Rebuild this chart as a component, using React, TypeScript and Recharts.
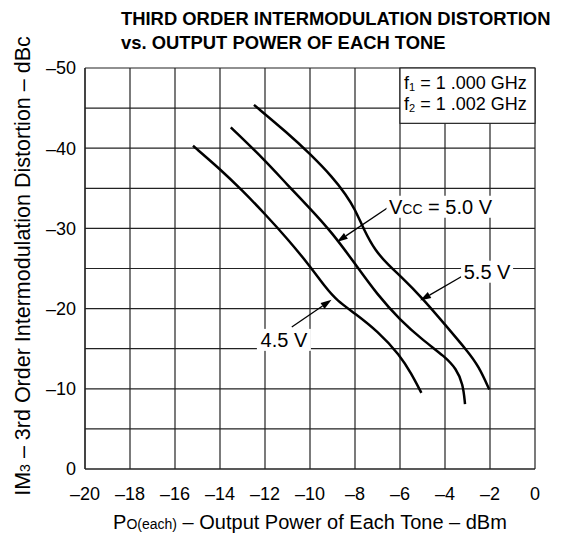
import {
  LineChart,
  Line,
  XAxis,
  YAxis,
  CartesianGrid,
  ReferenceArea,
  ReferenceLine,
  ReferenceDot,
} from 'recharts';

// IM3 (dBc) vs output power of each tone (dBm), one curve per Vcc
const VCC_45 = [
  { x: -15.2, y: -40.3 },
  { x: -14.0, y: -37.4 },
  { x: -13.0, y: -34.7 },
  { x: -12.0, y: -31.8 },
  { x: -11.0, y: -28.7 },
  { x: -10.0, y: -25.3 },
  { x: -9.3, y: -22.6 },
  { x: -8.8, y: -21.0 },
  { x: -8.0, y: -19.4 },
  { x: -7.0, y: -17.2 },
  { x: -6.0, y: -14.2 },
  { x: -5.5, y: -11.9 },
  { x: -5.05, y: -9.5 },
];

const VCC_50 = [
  { x: -13.52, y: -42.6 },
  { x: -12.0, y: -38.5 },
  { x: -11.0, y: -35.4 },
  { x: -10.0, y: -32.5 },
  { x: -9.0, y: -29.4 },
  { x: -8.0, y: -25.6 },
  { x: -7.0, y: -21.7 },
  { x: -6.0, y: -18.6 },
  { x: -5.0, y: -16.1 },
  { x: -4.0, y: -14.0 },
  { x: -3.5, y: -12.5 },
  { x: -3.2, y: -10.6 },
  { x: -3.11, y: -8.1 },
];

const VCC_55 = [
  { x: -12.49, y: -45.4 },
  { x: -11.0, y: -41.9 },
  { x: -10.0, y: -39.3 },
  { x: -9.0, y: -36.4 },
  { x: -8.4, y: -34.2 },
  { x: -8.0, y: -32.4 },
  { x: -7.6, y: -29.8 },
  { x: -7.1, y: -27.2 },
  { x: -6.5, y: -25.4 },
  { x: -6.0, y: -24.1 },
  { x: -5.0, y: -21.3 },
  { x: -4.0, y: -18.0 },
  { x: -3.0, y: -14.7 },
  { x: -2.5, y: -12.8 },
  { x: -2.03, y: -9.9 },
];

const X_TICKS = [-20, -18, -16, -14, -12, -10, -8, -6, -4, -2, 0];
const Y_TICKS = [-50, -45, -40, -35, -30, -25, -20, -15, -10, -5, 0];

const FONT = '"Liberation Sans", Arial, Helvetica, sans-serif';
const DASH = '\u2013';

const fmt = (v: number) => (v === 0 ? '0' : `${DASH}${Math.abs(v)}`);
const fmtY = (v: number) => (v % 10 === 0 ? fmt(v) : '');

function Arrow(props: any) {
  const { x1, y1, x2, y2 } = props;
  const ang = Math.atan2(y2 - y1, x2 - x1);
  const len = 11;
  const half = 3.5;
  const bx = x2 - len * Math.cos(ang);
  const by = y2 - len * Math.sin(ang);
  const px = -Math.sin(ang) * half;
  const py = Math.cos(ang) * half;
  return (
    <g>
      <line x1={x1} y1={y1} x2={bx} y2={by} stroke="#000" strokeWidth={1.3} />
      <polygon points={`${x2},${y2} ${bx + px},${by + py} ${bx - px},${by - py}`} fill="#000" />
    </g>
  );
}

function label(content: React.ReactNode, w: number) {
  return (props: any) => {
    const { cx, cy } = props;
    return (
      <g>
        <rect x={cx - w / 2} y={cy - 11} width={w} height={22} fill="#fff" />
        <text x={cx} y={cy + 7} textAnchor="middle" fontSize={20} fontFamily={FONT} fill="#000">
          {content}
        </text>
      </g>
    );
  };
}

function InfoBox(props: any) {
  const { x, y, width, height } = props;
  return (
    <g>
      <rect x={x} y={y} width={width} height={height} fill="#fff" stroke="#222" strokeWidth={1.2} />
      <text x={x + 4} y={y + 21} fontSize={18} fontFamily={FONT} fill="#000">
        f<tspan fontSize={11} dy={2}>1</tspan>
        <tspan dy={-2}> = 1 .000 GHz</tspan>
      </text>
      <text x={x + 4} y={y + 42} fontSize={18} fontFamily={FONT} fill="#000">
        f<tspan fontSize={11} dy={2}>2</tspan>
        <tspan dy={-2}> = 1 .002 GHz</tspan>
      </text>
    </g>
  );
}

export default function App() {
  return (
    <div style={{ position: 'absolute', left: 0, top: 0, width: 569, height: 540, background: '#fff', fontFamily: FONT }}>
      <LineChart width={569} height={540} margin={{ top: 68, right: 34, bottom: 41, left: 45 }}>
        <CartesianGrid stroke="#222" strokeWidth={1.2} />
        <XAxis
          type="number"
          dataKey="x"
          domain={[-20, 0]}
          ticks={X_TICKS}
          tickFormatter={fmt}
          height={30}
          tickLine={false}
          tickSize={0}
          tickMargin={18}
          axisLine={{ stroke: '#222', strokeWidth: 1.2 }}
          tick={{ fill: '#000', fontSize: 18, fontFamily: FONT }}
          interval={0}
        />
        <YAxis
          type="number"
          dataKey="y"
          domain={[-50, 0]}
          reversed
          ticks={Y_TICKS}
          tickFormatter={fmtY}
          width={40}
          tickLine={false}
          tickSize={0}
          tickMargin={9}
          axisLine={{ stroke: '#222', strokeWidth: 1.2 }}
          tick={{ fill: '#000', fontSize: 18, fontFamily: FONT }}
          interval={0}
        />
        <ReferenceArea x1={-6} x2={0} y1={-50} y2={-43.1} shape={InfoBox} />
        <Line data={VCC_45} dataKey="y" type="basis" stroke="#000" strokeWidth={2.5} dot={false} isAnimationActive={false} />
        <Line data={VCC_50} dataKey="y" type="basis" stroke="#000" strokeWidth={2.5} dot={false} isAnimationActive={false} />
        <Line data={VCC_55} dataKey="y" type="basis" stroke="#000" strokeWidth={2.5} dot={false} isAnimationActive={false} />
        <ReferenceLine segment={[{ x: -6.53, y: -32.6 }, { x: -8.81, y: -28.3 }]} shape={Arrow} />
        <ReferenceLine segment={[{ x: -3.26, y: -24.0 }, { x: -5.11, y: -21.0 }]} shape={Arrow} />
        <ReferenceLine segment={[{ x: -10.81, y: -17.7 }, { x: -9.04, y: -21.1 }]} shape={Arrow} />
        <ReferenceDot
          x={-4.2}
          y={-32.7}
          r={0}
          shape={label(
            <>
              V<tspan fontSize={14}>CC</tspan> = 5.0 V
            </>,
            108,
          )}
        />
        <ReferenceDot x={-2.13} y={-24.6} r={0} shape={label('5.5 V', 52)} />
        <ReferenceDot x={-11.16} y={-16.1} r={0} shape={label('4.5 V', 54)} />
      </LineChart>
      <svg width={569} height={540} style={{ position: 'absolute', left: 0, top: 0, pointerEvents: 'none' }}>
        <text x={121} y={25} fontSize={18.4} fontWeight="bold" fontFamily={FONT} fill="#000">
          THIRD ORDER INTERMODULATION DISTORTION
        </text>
        <text x={121} y={49} fontSize={18.4} fontWeight="bold" fontFamily={FONT} fill="#000">
          vs. OUTPUT POWER OF EACH TONE
        </text>
        <text x={310} y={529} textAnchor="middle" fontSize={20} fontFamily={FONT} fill="#000">
          P<tspan fontSize={14}>O(each)</tspan> {DASH} Output Power of Each Tone {DASH} dBm
        </text>
        <text
          transform="translate(30,266) rotate(-90)"
          textAnchor="middle"
          fontSize={21.5}
          fontFamily={FONT}
          fill="#000"
        >
          IM<tspan fontSize={14}>3</tspan> {DASH} 3rd Order Intermodulation Distortion {DASH} dBc
        </text>
      </svg>
    </div>
  );
}
